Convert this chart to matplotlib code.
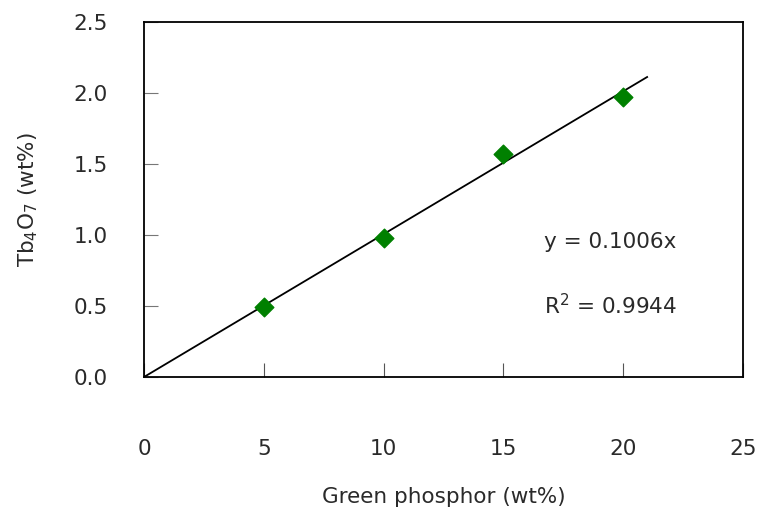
import numpy as np
import matplotlib
matplotlib.use('Agg')
import matplotlib.pyplot as plt

plt.rcParams['font.family'] = ['DejaVu Sans']

# data
phosphor = [5, 10, 15, 20]
tb4o7 = [0.49, 0.98, 1.57, 1.97]
slope = 0.1006
fit_x = [0, 21]
xticks = [0, 5, 10, 15, 20, 25]
yticks = [0.0, 0.5, 1.0, 1.5, 2.0, 2.5]

fig = plt.figure(figsize=(7.62, 5.12), dpi=100)
ax = fig.add_axes([0.189, 0.2637, 0.786, 0.6933])

ax.plot(fit_x, [slope * v for v in fit_x], color='black', lw=1.3)
ax.scatter(phosphor, tb4o7, marker='D', s=90, color='#008000', zorder=3)

ax.set_xlim(0, 25)
ax.set_ylim(0, 2.5)
ax.set_xticks(xticks)
ax.set_yticks(yticks)
ax.set_yticklabels(['%.1f' % v for v in yticks])
ax.tick_params(axis='x', direction='in', length=10, pad=45, labelsize=15.5, labelcolor='#2a2a2a', color='#555555')
ax.tick_params(axis='y', direction='in', length=10, pad=26, labelsize=15.5, labelcolor='#2a2a2a', color='#777777')
for s in ax.spines.values():
    s.set_linewidth(1.3)

ax.text(16.7, 0.95, 'y = 0.1006x', fontsize=15.5, color='#2a2a2a', va='center')
ax.text(16.7, 0.50, r'R$^2$ = 0.9944', fontsize=15.5, color='#2a2a2a', va='center')

ax.set_xlabel('Green phosphor (wt%)', fontsize=15.5, color='#2a2a2a', labelpad=20)
ax.set_ylabel(r'Tb$_4$O$_7$ (wt%)', fontsize=15.5, color='#2a2a2a', labelpad=24)

fig.savefig('out.png', dpi=100)
